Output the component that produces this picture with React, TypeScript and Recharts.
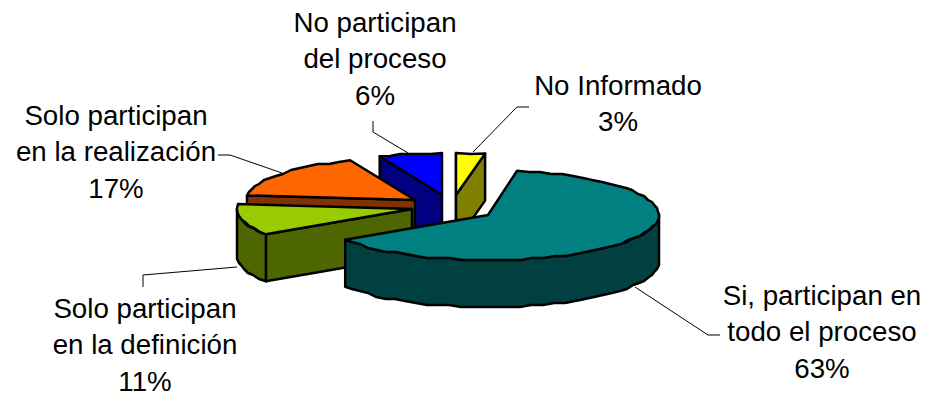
// 3D exploded pie: participation in the process
import { PieChart, Pie } from 'recharts';

const categories = ['No Informado', 'No participan del proceso', 'Solo participan en la realización', 'Solo participan en la definición', 'Si, participan en todo el proceso'];
const values = [3, 6, 17, 11, 63];
const labelLines = [
  ['No Informado'],
  ['No participan', 'del proceso'],
  ['Solo participan', 'en la realización'],
  ['Solo participan', 'en la definición'],
  ['Si, participan en', 'todo el proceso'],
];

const topColors = ['#ffff00', '#0000ff', '#ff6600', '#99cc00', '#008080'];
const wallColors = ['#808000', '#000080', '#803300', '#4d6600', '#004040'];

// how far each slice is pulled out of the pie, and its projected ellipse
const offsetX = [-32, -46, -73, -76, 0];
const offsetY = [-19, -19, -14, -5, 1];
const radiusX = [171, 162, 169, 175, 171];
const radiusY = [42, 42, 43, 46, 45];
const depth = 47;

const labelX = [618, 375, 116, 145, 822];
const labelY = [95, 32, 125, 318, 305];
const leaders = [
  '473,152 517,107 529,107',
  '373,121 373,132 408,153',
  '218,155 230,155 282,173',
  '143,287 143,275 237,267',
  '635,287 708,335 720,335',
];

const FONT = '"Liberation Sans", Arial, sans-serif';
const rad = (d: number) => (d * Math.PI) / 180;

// edges this close to the back of the pie are drawn dead straight
const squareUp = (t: number) => (Math.abs(t - 360) < 1.5 ? 360 : t);

function arcPoints(x: number, y: number, rx: number, ry: number, t0: number, t1: number) {
  // stepped outline, snapped to a coarse grid the way the old renderer drew it
  const steps = Math.max(2, Math.round((t1 - t0) / 4));
  const pts: number[][] = [];
  for (let i = 0; i <= steps; i++) {
    const t = rad(t0 + ((t1 - t0) * i) / steps);
    const px = x + rx * Math.sin(t);
    const py = y - ry * Math.cos(t);
    const snap = i === 0 || i === steps;
    pts.push([snap ? px : Math.round(px), snap ? py : Math.round(py / 2) * 2]);
  }
  return pts;
}

const toPath = (pts: number[][]) => 'M' + pts.map((p) => p[0].toFixed(1) + ',' + p[1].toFixed(1)).join('L') + 'Z';

function Slice3D(props: any) {
  const i = categories.indexOf(props.name);
  const x = props.cx + offsetX[i];
  const y = props.cy + offsetY[i];
  const rx = radiusX[i];
  const ry = radiusY[i];
  let t0 = 90 - props.endAngle;
  let t1 = 90 - props.startAngle;
  if (t0 < 0) {
    t0 += 360;
    t1 += 360;
  }
  t0 = squareUp(t0);
  t1 = squareUp(t1);
  const outer = (t: number) => [x + rx * Math.sin(rad(t)), y - ry * Math.cos(rad(t))];
  const shade = { fill: wallColors[i], stroke: '#000', strokeWidth: 2.5, strokeLinejoin: 'round' as const };
  const radialWall = (t: number) => {
    const o = outer(t);
    return toPath([[x, y], o, [o[0], o[1] + depth], [x, y + depth]]);
  };
  const w0 = Math.max(t0, 90);
  const w1 = Math.min(t1, 270);
  let rim = null;
  if (w1 > w0) {
    const top = arcPoints(x, y, rx, ry, w0, w1);
    const bottom = top.map((p) => [p[0], p[1] + depth]).reverse();
    rim = <path d={toPath([...top, ...bottom])} {...shade} />;
  }
  return (
    <g>
      {Math.sin(rad(t0)) < 1e-9 && <path d={radialWall(t0)} {...shade} />}
      {Math.sin(rad(t1)) > 1e-9 && <path d={radialWall(t1)} {...shade} />}
      {rim}
      <path d={toPath([[x, y], ...arcPoints(x, y, rx, ry, t0, t1)])} fill={topColors[i]} stroke="#000" strokeWidth={2.5} strokeLinejoin="round" />
    </g>
  );
}

function SliceLabel(props: any) {
  const i = props.index;
  const lines = [...labelLines[i], values[i] + '%'];
  return (
    <text textAnchor="middle" fontFamily={FONT} fontSize={27.7} fill="#000">
      {lines.map((l, n) => (
        <tspan key={n} x={labelX[i]} y={labelY[i] + n * 36.3}>{l}</tspan>
      ))}
    </text>
  );
}

function LeaderLine(props: any) {
  return <polyline points={leaders[props.index]} fill="none" stroke="#000" strokeWidth={1} />;
}

const rows = categories.map((name, i) => ({ name, value: values[i] }));

export default function App() {
  return (
    <div style={{ position: 'absolute', left: 0, top: 0, width: 928, height: 396, background: '#fff' }}>
      <PieChart width={928} height={396} margin={{ top: 0, right: 0, bottom: 0, left: 0 }}>
        <Pie
          data={rows}
          dataKey="value"
          nameKey="name"
          cx={488}
          cy={214}
          outerRadius={171}
          startAngle={80.2}
          endAngle={440.2}
          shape={Slice3D}
          label={SliceLabel}
          labelLine={LeaderLine}
          isAnimationActive={false}
        />
      </PieChart>
    </div>
  );
}
